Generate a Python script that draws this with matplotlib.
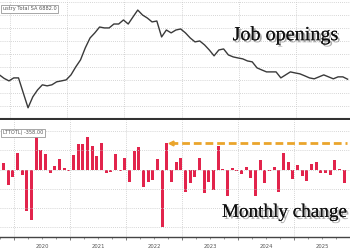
import numpy as np
import matplotlib
matplotlib.use("Agg")
import matplotlib.pyplot as plt
import matplotlib.patheffects as pe

# months counted from Jan 2020 (first point is Oct 2019)
first_month = -3
years = ["2020", "2021", "2022", "2023", "2024", "2025"]

# job openings, millions
openings = [7.13, 6.86, 6.67, 6.90, 6.90, 5.75, 4.61, 5.45, 5.98, 6.37,
            6.29, 6.37, 6.60, 6.67, 6.75, 7.13, 7.74, 8.28, 9.20, 9.96,
            10.35, 10.80, 10.73, 10.73, 11.03, 11.03, 11.34, 11.03, 11.57, 12.10,
            11.72, 11.49, 11.19, 11.26, 10.04, 10.57, 10.35, 10.57, 10.65, 10.35,
            9.96, 9.66, 9.73, 9.43, 9.04, 8.59, 9.04, 9.12, 8.66, 8.51,
            8.43, 8.36, 8.20, 8.13, 7.67, 7.51, 7.36, 7.36, 7.36, 6.90,
            7.13, 7.36, 7.28, 7.21, 7.06, 6.90, 6.83, 6.98, 7.13, 6.98,
            6.83, 6.98, 6.98, 6.80]

# monthly change, thousands
change = [174, -390, -200, 434, -148, -1066, -1300, 954, 520, 408,
          -86, 86, 286, 44, -44, 390, 676, 676, 850, 611,
          364, 689, -86, -52, 403, -39, 317, -307, 494, 603,
          -437, -312, -265, 291, -1482, 694, -320, 208, 294, -572,
          -338, -182, 312, -598, -312, -520, 616, 15, -684, 34,
          -34, -122, 60, -226, -684, 252, -356, -26, 78, -572,
          442, 195, -234, 122, -169, -299, 143, 208, -91, -96,
          -138, 252, 20, -358]

ref_level = 694  # dashed marker level (largest recent gain)

OFFSET = 0.78  # points sit late in each month
x = np.arange(len(openings)) + first_month + OFFSET
year_bounds = np.arange(0, 12 * len(years), 12)
quarters = np.arange(-3, 12 * len(years) + 3, 3)
xmin, xmax = -2.1, 71.28

fig = plt.figure(figsize=(3.5, 2.5), dpi=100)
ax1 = fig.add_axes([0, 0.524, 1, 0.476])
ax2 = fig.add_axes([0, 0.052, 1, 0.468])

grid_kw = dict(color="#c8c8c8", lw=0.6, ls=(0, (1, 1.5)))
shadow = [pe.withSimplePatchShadow(offset=(1.5, -1.5), shadow_rgbFace="#777777",
                                   alpha=0.6),
          pe.Normal()]
box_kw = dict(boxstyle="square,pad=0.35", fc="white", ec="#999999", lw=0.6)

# top panel
ax1.plot(x, openings, color="#3a3a3a", lw=1.0)
ax1.set_xlim(xmin, xmax)
ax1.set_ylim(3.765, 12.87)
ax1.set_yticks(np.arange(3.75, 13, 1.0))
ax1.set_xticks(year_bounds)
ax1.grid(True, **grid_kw)
ax1.tick_params(left=False, bottom=False, labelleft=False, labelbottom=False)
for s in ["top", "left", "right"]:
    ax1.spines[s].set_visible(False)
ax1.spines["bottom"].set_color("#333333")
ax1.spines["bottom"].set_linewidth(1.5)

ax1.text(0.008, 0.925, "ustry Total SA 6882.0", transform=ax1.transAxes,
         ha="left", va="center", fontsize=3.6, color="#555555", bbox=box_kw)

ax1.text(0.815, 0.7, "Job openings", transform=ax1.transAxes, ha="center",
         va="center", fontsize=14.5, family="Liberation Serif", color="#111111",
         path_effects=shadow)

# bottom panel
ax2.bar(x, change, width=0.65, color="#e2244c")
ax2.plot([x[35] + 0.6, xmax], [ref_level, ref_level], color="#eaa52c", lw=2.0,
         ls=(0, (2.8, 1.4)))
ax2.plot(x[35] + 0.8, ref_level, marker="<", ms=3.5, color="#eaa52c")
ax2.set_xlim(xmin, xmax)
ax2.set_ylim(-1750, 1292)
ax2.set_yticks(np.arange(-1500, 1300, 500))
ax2.set_xticks(year_bounds)
ax2.set_xticks(quarters, minor=True)
ax2.grid(True, **grid_kw)
ax2.tick_params(left=False, labelleft=False, labelbottom=False)
ax2.tick_params(axis="x", which="major", length=2.5, width=0.6, color="#666666")
ax2.tick_params(axis="x", which="minor", length=1.2, width=0.6, color="#888888")
for s in ["top", "left", "right"]:
    ax2.spines[s].set_visible(False)
ax2.spines["bottom"].set_color("#444444")
ax2.spines["bottom"].set_linewidth(1.0)

for i, yr in enumerate(years):
    ax2.text(12 * i + 6, -0.08, yr, transform=ax2.get_xaxis_transform(),
             ha="center", va="center", fontsize=3.8, color="#555555")

ax2.text(0.008, 0.89, "LTTOTL) -358.00", transform=ax2.transAxes,
         ha="left", va="center", fontsize=3.6, color="#555555", bbox=box_kw)

ax2.text(0.634, 0.21, "Monthly change", transform=ax2.transAxes, ha="left",
         va="center", fontsize=13.8, family="Liberation Serif", color="#111111",
         path_effects=shadow)

fig.savefig("out.png", dpi=100)
